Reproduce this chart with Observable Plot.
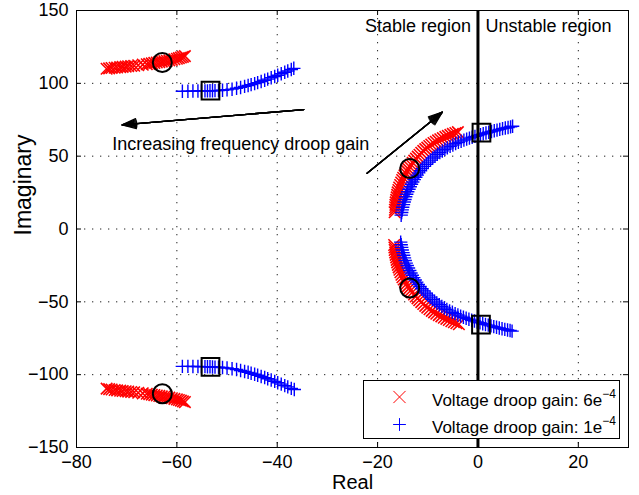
<!DOCTYPE html>
<html>
<head>
<meta charset="utf-8">
<script src="https://cdn.jsdelivr.net/npm/d3@7"></script>
<script src="https://cdn.jsdelivr.net/npm/@observablehq/plot@0.6"></script>
<style>
  html, body { margin: 0; padding: 0; background: #fff; }
</style>
</head>
<body>
<div id="chart"></div>
<script>
// ---- axis ticks ----
const xTicks = [-80, -60, -40, -20, 0, 20];
const yTicks = [-150, -100, -50, 0, 50, 100, 150];

// ---- Voltage droop gain 6e-4 (red x) : [real, imaginary] ----
const redUpperLeft = [[-74.0,110.0],[-73.5,110.3],[-73.0,110.5],[-72.4,110.7],[-71.9,110.9],[-71.3,111.1],[-70.8,111.3],[-70.2,111.5],[-69.7,111.7],[-69.1,111.9],[-68.5,112.1],[-67.7,112.4],[-66.8,112.8],[-66.0,113.1],[-65.5,113.4],[-65.0,113.7],[-64.5,114.0],[-64.0,114.3],[-63.5,114.6],[-63.0,114.9],[-62.5,115.2],[-62.0,115.5],[-61.5,115.8],[-61.0,116.1],[-60.5,116.5],[-60.0,116.9],[-59.6,117.3],[-59.2,117.7],[-58.8,118.2],[-58.4,118.7]];
const redLowerLeft = [[-74.0,-109.6],[-73.5,-109.9],[-73.0,-110.2],[-72.4,-110.5],[-71.9,-110.8],[-71.3,-111.0],[-70.8,-111.2],[-70.2,-111.4],[-69.7,-111.6],[-69.1,-111.9],[-68.5,-112.1],[-67.7,-112.4],[-66.8,-112.8],[-66.0,-113.1],[-65.5,-113.4],[-65.0,-113.7],[-64.5,-114.0],[-64.0,-114.3],[-63.5,-114.6],[-63.0,-114.9],[-62.5,-115.2],[-62.0,-115.5],[-61.5,-115.8],[-61.0,-116.2],[-60.5,-116.6],[-60.0,-117.0],[-59.6,-117.4],[-59.2,-117.8],[-58.8,-118.3],[-58.4,-118.8]];
const redUpperRight = [[-16.6,11.5],[-16.55,13.2],[-16.5,14.9],[-16.45,16.6],[-16.4,18.3],[-16.3,20.0],[-16.2,21.7],[-16.1,23.4],[-16.0,25.1],[-15.85,26.8],[-15.7,28.5],[-15.5,30.2],[-15.3,31.9],[-15.1,33.6],[-14.9,35.2],[-14.65,36.8],[-14.4,38.4],[-14.15,39.9],[-13.9,41.3],[-13.6,42.7],[-13.3,44.1],[-13.0,45.5],[-12.7,46.9],[-12.35,48.3],[-12.0,49.7],[-11.65,51.0],[-11.3,52.3],[-10.9,53.6],[-10.5,54.8],[-10.1,55.9],[-9.7,57.0],[-9.3,58.0],[-8.85,59.0],[-8.4,59.9],[-7.95,60.8],[-7.5,61.6],[-7.0,62.4],[-6.5,63.2],[-6.0,63.9],[-5.5,64.6],[-5.0,65.3],[-4.5,65.9],[-4.0,66.5]];
const redLowerRight = [[-16.7,-11.0],[-16.65,-12.7],[-16.6,-14.4],[-16.5,-16.1],[-16.4,-17.8],[-16.3,-19.5],[-16.2,-21.2],[-16.1,-22.9],[-15.95,-24.6],[-15.8,-26.3],[-15.65,-28.0],[-15.45,-29.7],[-15.25,-31.4],[-15.05,-33.1],[-14.8,-34.7],[-14.55,-36.3],[-14.3,-37.9],[-14.0,-39.4],[-13.7,-40.8],[-13.4,-42.2],[-13.1,-43.6],[-12.75,-45.0],[-12.4,-46.3],[-12.05,-47.6],[-11.7,-48.9],[-11.3,-50.2],[-10.9,-51.5],[-10.5,-52.8],[-10.1,-54.0],[-9.65,-55.1],[-9.2,-56.2],[-8.75,-57.2],[-8.3,-58.2],[-7.8,-59.1],[-7.3,-60.0],[-6.8,-60.9],[-6.3,-61.7],[-5.8,-62.5],[-5.3,-63.3],[-4.8,-64.0],[-4.3,-64.7],[-3.8,-65.4]];

// ---- Voltage droop gain 1e-4 (blue +) : [real, imaginary] ----
const blueUpperLeft = [[-58.9,94.6],[-57.8,94.6],[-56.8,94.7],[-55.8,94.7],[-55.1,94.8],[-54.4,94.8],[-53.9,94.8],[-53.4,94.9],[-52.9,94.9],[-52.4,95.0],[-51.7,95.1],[-50.9,95.3],[-50.0,95.6],[-49.0,96.0],[-48.1,96.6],[-47.3,97.2],[-46.5,97.9],[-45.8,98.5],[-45.2,99.1],[-44.5,99.8],[-43.9,100.5],[-43.2,101.3],[-42.5,102.1],[-41.9,102.9],[-41.2,103.8],[-40.5,104.7],[-39.9,105.6],[-39.2,106.6],[-38.5,107.6],[-37.9,108.5],[-37.2,109.5],[-36.7,110.3]];
const blueLowerLeft = [[-58.9,-94.3],[-57.8,-94.3],[-56.8,-94.4],[-55.8,-94.4],[-55.1,-94.5],[-54.4,-94.5],[-53.9,-94.6],[-53.4,-94.6],[-52.9,-94.7],[-52.4,-94.8],[-51.7,-94.9],[-50.9,-95.1],[-50.0,-95.4],[-49.0,-95.9],[-48.1,-96.5],[-47.3,-97.1],[-46.5,-97.8],[-45.8,-98.4],[-45.2,-99.0],[-44.5,-99.7],[-43.9,-100.4],[-43.2,-101.2],[-42.5,-102.0],[-41.9,-102.8],[-41.2,-103.7],[-40.5,-104.6],[-39.9,-105.5],[-39.2,-106.5],[-38.5,-107.5],[-37.9,-108.4],[-37.2,-109.4],[-36.6,-110.2]];
const blueUpperRight = [[-15.3,9.5],[-15.2,11.3],[-15.1,13.1],[-15.0,14.9],[-14.85,16.7],[-14.7,18.5],[-14.55,20.3],[-14.4,22.1],[-14.2,23.9],[-14.0,25.6],[-13.75,27.3],[-13.5,29.0],[-13.25,30.7],[-13.0,32.3],[-12.7,33.9],[-12.4,35.5],[-12.1,37.0],[-11.8,38.5],[-11.45,40.0],[-11.1,41.5],[-10.7,43.0],[-10.3,44.5],[-9.9,45.9],[-9.45,47.3],[-9.0,48.7],[-8.55,50.0],[-8.1,51.3],[-7.6,52.5],[-7.1,53.6],[-6.6,54.7],[-6.1,55.7],[-5.55,56.7],[-5.0,57.7],[-4.45,58.6],[-3.9,59.5],[-3.35,60.3],[-2.8,61.0],[-2.25,61.7],[-1.7,62.4],[-1.15,63.0],[-0.6,63.6],[-0.05,64.2],[0.5,64.8],[1.05,65.4],[1.6,65.9],[2.15,66.4],[2.7,66.9],[3.25,67.4],[3.8,67.9],[4.35,68.4],[4.9,68.9],[5.45,69.3],[6.0,69.7],[6.5,70.1],[6.9,70.5]];
const blueLowerRight = [[-15.4,-9.0],[-15.3,-10.8],[-15.2,-12.6],[-15.1,-14.4],[-14.95,-16.2],[-14.8,-18.0],[-14.65,-19.8],[-14.5,-21.6],[-14.3,-23.4],[-14.1,-25.1],[-13.85,-26.8],[-13.6,-28.5],[-13.35,-30.2],[-13.1,-31.8],[-12.8,-33.4],[-12.5,-35.0],[-12.2,-36.5],[-11.9,-38.0],[-11.55,-39.5],[-11.2,-41.0],[-10.8,-42.5],[-10.4,-44.0],[-10.0,-45.4],[-9.55,-46.8],[-9.1,-48.2],[-8.65,-49.5],[-8.2,-50.8],[-7.7,-52.0],[-7.2,-53.1],[-6.7,-54.2],[-6.2,-55.2],[-5.65,-56.2],[-5.1,-57.2],[-4.55,-58.1],[-4.0,-59.0],[-3.45,-59.8],[-2.9,-60.6],[-2.35,-61.3],[-1.8,-62.0],[-1.25,-62.6],[-0.7,-63.2],[-0.15,-63.8],[0.4,-64.4],[0.95,-65.0],[1.5,-65.5],[2.05,-66.0],[2.6,-66.5],[3.15,-67.0],[3.7,-67.5],[4.25,-68.0],[4.8,-68.5],[5.35,-68.9],[5.9,-69.3],[6.4,-69.7],[6.8,-70.1]];

// ---- highlighted operating points ----
const circlePoints = [[-62.9,114.3],[-62.9,-113.1],[-13.6,41.5],[-13.6,-40.5]];
const squarePoints = [[-53.3,95.0],[-53.3,-94.6],[0.7,66.2],[0.6,-65.7]];

// ---- annotations ----
const arrowLines = [[-34.7,82.0,-70.9,71.5],[-22.1,38.3,-7.1,80.2]];
const arrowText = ["Increasing frequency droop gain"];
const regionText = ["Stable region", "Unstable region"];
const legendBase = ["Voltage droop gain: 6e", "Voltage droop gain: 1e"];
const legendExp = ["\u22124", "\u22124"];
const axisLabels = ["Real", "Imaginary"];

const fmt = d => d < 0 ? "\u2212" + (-d) : String(d);
const W = 639, H = 495, mL = 76, mR = 11, mT = 10, mB = 48;
const innerW = W - mL - mR, innerH = H - mT - mB;

const red = [...redUpperLeft, ...redLowerLeft, ...redUpperRight, ...redLowerRight];
const blue = [...blueUpperLeft, ...blueLowerLeft, ...blueUpperRight, ...blueLowerRight];
const px = d => d[0], py = d => d[1];
const dotted = {stroke: "#222", strokeWidth: 1, strokeDasharray: "1.3,6.7"};

const arrowHeads = [8, 16, 24, 32, 40].map(a => Plot.arrow(arrowLines, {
  x1: d => d[0], y1: d => d[1], x2: d => d[2], y2: d => d[3],
  stroke: "black", strokeWidth: 1.3, headLength: 17, headAngle: a
}));

const plot = Plot.plot({
  width: W, height: H,
  marginLeft: mL, marginRight: mR, marginTop: mT, marginBottom: mB,
  style: {fontFamily: "'Liberation Sans', Arial, Helvetica, sans-serif", fontSize: "18px", background: "white", color: "black"},
  x: {domain: [-80, 30], ticks: xTicks, tickSize: 0, tickPadding: 8, tickFormat: fmt, label: null},
  y: {domain: [-150, 150], ticks: yTicks, tickSize: 0, tickPadding: 8, tickFormat: fmt, label: null},
  marks: [
    Plot.ruleX(xTicks.filter(d => d > -80 && d < 30), dotted),
    Plot.ruleY(yTicks.filter(d => d > -150 && d < 150), dotted),
    Plot.dot(red, {x: px, y: py, symbol: "times", r: 5.3, stroke: "#ff0000", strokeWidth: 1.6}),
    Plot.dot(blue, {x: px, y: py, symbol: "plus", r: 4.4, stroke: "#0000ff", strokeWidth: 1.4}),
    Plot.ruleX([0], {stroke: "black", strokeWidth: 3}),
    Plot.dot(circlePoints, {x: px, y: py, r: 9.5, stroke: "black", strokeWidth: 2, fill: "none"}),
    Plot.dot(squarePoints, {x: px, y: py, symbol: "square", r: 10, stroke: "black", strokeWidth: 2, fill: "none"}),
    ...arrowHeads,
    Plot.text(arrowText, {x: -72.9, y: 53.9, text: d => d, textAnchor: "start", lineAnchor: "bottom", fontSize: 18}),
    Plot.text([regionText[0]], {x: 0, frameAnchor: "top", text: d => d, textAnchor: "end", lineAnchor: "bottom", dx: -7, dy: 21, fontSize: 18}),
    Plot.text([regionText[1]], {x: 0, frameAnchor: "top", text: d => d, textAnchor: "start", lineAnchor: "bottom", dx: 7.5, dy: 21, fontSize: 18}),
    Plot.frame({stroke: "black", strokeWidth: 1}),
    Plot.ruleX(xTicks, {insetTop: innerH - 5, stroke: "black"}),
    Plot.ruleX(xTicks, {insetBottom: innerH - 5, stroke: "black"}),
    Plot.ruleY(yTicks, {insetRight: innerW - 5, stroke: "black"}),
    Plot.ruleY(yTicks, {insetLeft: innerW - 5, stroke: "black"}),
    // legend
    Plot.frame({insetLeft: 287, insetRight: 9, insetTop: 370, insetBottom: 9, fill: "white", stroke: "black", strokeWidth: 1}),
    Plot.dot([0], {x: null, y: null, frameAnchor: "bottom-right", dx: -229, dy: -50.5, symbol: "times", r: 5.6, stroke: "#ff0000", strokeWidth: 1}),
    Plot.dot([0], {x: null, y: null, frameAnchor: "bottom-right", dx: -229, dy: -23, symbol: "plus", r: 4.2, stroke: "#0000ff", strokeWidth: 1}),
    Plot.text([legendBase[0]], {frameAnchor: "bottom-right", text: d => d, textAnchor: "start", lineAnchor: "bottom", dx: -196.5, dy: -42, fontSize: 17}),
    Plot.text([legendBase[1]], {frameAnchor: "bottom-right", text: d => d, textAnchor: "start", lineAnchor: "bottom", dx: -196.5, dy: -14.5, fontSize: 17}),
    // axis labels
    Plot.text([axisLabels[0]], {frameAnchor: "bottom", text: d => d, lineAnchor: "bottom", dy: 41, fontSize: 20}),
    Plot.text([axisLabels[1]], {frameAnchor: "left", text: d => d, lineAnchor: "bottom", rotate: -90, dx: -46, dy: 6.5, fontSize: 23})
  ]
});

document.getElementById("chart").append(plot);

// superscript exponents in the legend
const ns = "http://www.w3.org/2000/svg";
plot.querySelectorAll("text").forEach(t => {
  const i = legendBase.indexOf(t.textContent);
  if (i < 0) return;
  const s = document.createElementNS(ns, "tspan");
  s.setAttribute("dy", "-8");
  s.setAttribute("font-size", "12");
  s.textContent = legendExp[i];
  t.appendChild(s);
});
</script>
</body>
</html>
